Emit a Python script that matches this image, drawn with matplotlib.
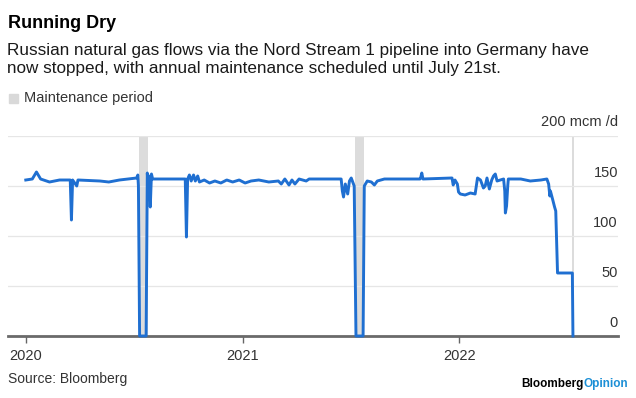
import matplotlib
matplotlib.use("Agg")
import matplotlib.pyplot as plt
import matplotlib.dates as mdates
import pandas as pd

plt.rcParams['font.family'] = ['Liberation Sans', 'DejaVu Sans']

# Nord Stream 1 flows, mcm/d
dates = [
    "2020-01-01", "2020-01-12", "2020-01-19", "2020-01-26", "2020-02-10", "2020-02-27",
    "2020-03-16", "2020-03-18", "2020-03-20", "2020-03-27", "2020-03-29", "2020-05-05",
    "2020-05-20", "2020-06-07", "2020-07-06", "2020-07-08", "2020-07-09", "2020-07-11",
    "2020-07-22", "2020-07-24", "2020-07-26", "2020-07-27", "2020-07-29", "2020-07-31",
    "2020-08-02", "2020-09-26", "2020-09-28", "2020-09-30", "2020-10-03", "2020-10-06",
    "2020-10-10", "2020-10-13", "2020-10-17", "2020-10-20", "2020-10-28", "2020-11-06",
    "2020-11-15", "2020-11-25", "2020-12-05", "2020-12-15", "2020-12-26", "2021-01-05",
    "2021-01-15", "2021-01-28", "2021-02-14", "2021-03-02", "2021-03-07", "2021-03-13",
    "2021-03-20", "2021-03-25", "2021-03-30", "2021-04-06", "2021-04-18", "2021-04-23",
    "2021-06-16", "2021-06-18", "2021-06-20", "2021-06-23", "2021-06-27", "2021-06-30",
    "2021-07-03", "2021-07-08", "2021-07-11", "2021-07-23", "2021-07-25", "2021-07-30",
    "2021-08-06", "2021-08-11", "2021-08-16", "2021-08-28", "2021-10-27", "2021-10-28",
    "2021-10-30", "2021-11-01", "2021-12-20", "2021-12-22", "2021-12-25", "2021-12-29",
    "2021-12-31", "2022-01-03", "2022-01-11", "2022-01-20", "2022-01-28", "2022-02-01",
    "2022-02-06", "2022-02-11", "2022-02-14", "2022-02-17", "2022-02-21", "2022-02-25",
    "2022-02-28", "2022-03-03", "2022-03-06", "2022-03-17", "2022-03-19", "2022-03-20",
    "2022-03-22", "2022-03-24", "2022-03-25", "2022-04-15", "2022-05-01", "2022-05-19",
    "2022-05-29", "2022-06-01", "2022-06-03", "2022-06-04", "2022-06-08", "2022-06-11",
    "2022-06-13", "2022-06-16", "2022-07-11", "2022-07-12",
]
flows = [
    156, 157, 164, 157, 154, 156,
    156, 116, 156, 150, 156, 155,
    154, 156, 158, 161, 150, 0,
    0, 163, 140, 160, 129, 162,
    157, 157, 99, 157, 161, 155,
    161, 155, 160, 154, 156, 153,
    155, 153, 156, 154, 156, 153,
    155, 156, 154, 155, 152, 157,
    151, 156, 152, 157, 155, 157,
    157, 145, 139, 152, 142, 155,
    158, 150, 0, 0, 150, 155,
    154, 151, 155, 157, 157, 158,
    163, 157, 158, 151, 156, 152,
    144, 142, 141, 143, 142, 158,
    156, 148, 150, 158, 147, 156,
    160, 162, 155, 157, 145, 123,
    130, 150, 157, 157, 155, 156,
    157, 152, 140, 145, 136, 129,
    125, 63, 63, 0,
]

maint_start = ["2020-07-10", "2021-07-10"]
maint_end = ["2020-07-25", "2021-07-25"]
maint_now = "2022-07-12"

y_ticks = [0, 50, 100, 150]
year_ticks = ["2020-01-01", "2021-01-01", "2022-01-01"]
year_labels = ["2020", "2021", "2022"]

W, H = 636, 398
fig = plt.figure(figsize=(W / 100, H / 100), dpi=100)
ax = fig.add_axes([8 / W, 62 / H, 610 / W, 200 / H])

for s, e in zip(maint_start, maint_end):
    ax.axvspan(pd.Timestamp(s), pd.Timestamp(e), color='#dcdcdc', lw=0, zorder=0)
ax.axvline(pd.Timestamp(maint_now), color='#d6d6d6', lw=1.2, zorder=0)

ax.plot(pd.to_datetime(dates), flows, color='#1f6fd1', lw=2.1,
        solid_joinstyle='round', zorder=3, clip_on=False)

ax.set_ylim(0, 200)
ax.set_xlim(pd.Timestamp("2019-12-02"), pd.Timestamp("2022-09-26"))
ax.set_yticks([0, 50, 100, 150, 200])
ax.yaxis.grid(True, color='#e6e6e6', lw=0.9)
ax.tick_params(axis='y', length=0, labelleft=False)
for v in y_ticks:
    ax.annotate(str(v), xy=(1.0, v), xycoords=('axes fraction', 'data'),
                xytext=(0, 9.5), textcoords='offset points',
                ha='right', va='center', fontsize=10.5, color='#333333')
ax.annotate("200 mcm /d", xy=(1.0, 200), xycoords=('axes fraction', 'data'),
            xytext=(0, 10), textcoords='offset points',
            ha='right', va='center', fontsize=10.5, color='#333333')

ax.set_xticks(pd.to_datetime(year_ticks))
ax.set_xticklabels(year_labels)
ax.tick_params(axis='x', direction='out', length=5, width=1, color='#666666',
               pad=4.5, labelsize=10.5, labelcolor='#333333')

for side in ['top', 'left', 'right']:
    ax.spines[side].set_visible(False)
ax.spines['bottom'].set_color('#6a6a6a')
ax.spines['bottom'].set_linewidth(2)
ax.set_axisbelow(True)

# headings
fig.text(8 / W, 1 - 24 / H, "Running Dry", fontsize=13, fontweight='bold',
         va='center', ha='left', color='black')
fig.text(7 / W, 1 - 50 / H,
         "Russian natural gas flows via the Nord Stream 1 pipeline into Germany have",
         fontsize=12.3, va='center', ha='left', color='#1a1a1a')
fig.text(7 / W, 1 - 69 / H,
         "now stopped, with annual maintenance scheduled until July 21st.",
         fontsize=12.3, va='center', ha='left', color='#1a1a1a')

fig.patches.append(plt.Rectangle((9 / W, 1 - 103 / H), 9 / W, 9 / H,
                                 transform=fig.transFigure, color='#d9d9d9'))
fig.text(24 / W, 1 - 98 / H, "Maintenance period", fontsize=10.5,
         va='center', ha='left', color='#333333')

fig.text(8 / W, 1 - 379 / H, "Source: Bloomberg", fontsize=10,
         va='center', ha='left', color='#333333')
op = fig.text(628 / W, 1 - 384 / H, "Opinion", fontsize=8.5, fontweight='bold',
              va='center', ha='right', color='#1b8fd6')
fig.canvas.draw()
bb = op.get_window_extent()
fig.text(bb.x0 / W, 1 - 384 / H, "Bloomberg", fontsize=8.5, fontweight='bold',
         va='center', ha='right', color='black')

fig.savefig("out.png", dpi=100)
